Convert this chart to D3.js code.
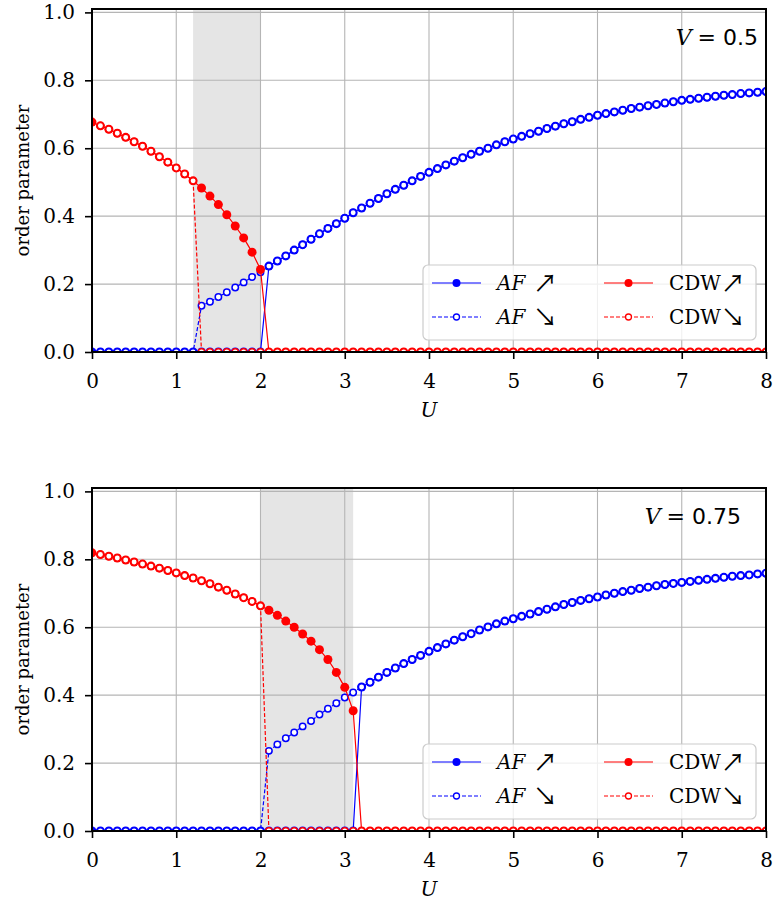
<!DOCTYPE html>
<html>
<head>
<meta charset="utf-8">
<script src="https://cdn.jsdelivr.net/npm/d3@7"></script>
<style>
  body { margin: 0; background: #fff; }
  svg text { font-family: "DejaVu Serif", serif; fill: #000; }
</style>
</head>
<body>
<div id="chart"></div>
<script>
// U grid (forward sweep starts at 0, backward sweep stops at 0.1 -> null)
const U = [0,0.1,0.2,0.3,0.4,0.5,0.6,0.7,0.8,0.9,
           1,1.1,1.2,1.3,1.4,1.5,1.6,1.7,1.8,1.9,
           2,2.1,2.2,2.3,2.4,2.5,2.6,2.7,2.8,2.9,
           3,3.1,3.2,3.3,3.4,3.5,3.6,3.7,3.8,3.9,
           4,4.1,4.2,4.3,4.4,4.5,4.6,4.7,4.8,4.9,
           5,5.1,5.2,5.3,5.4,5.5,5.6,5.7,5.8,5.9,
           6,6.1,6.2,6.3,6.4,6.5,6.6,6.7,6.8,6.9,
           7,7.1,7.2,7.3,7.4,7.5,7.6,7.7,7.8,7.9,
           8];

// V = 0.5
const afUp05 = [0,0,0,0,0,0,0,0,0,0,
                0,0,0,0,0,0,0,0,0,0,
                0,0.253,0.268,0.283,0.300,0.316,0.332,0.348,0.364,0.378,
                0.394,0.410,0.424,0.438,0.452,0.466,0.479,0.491,0.504,0.517,
                0.529,0.540,0.551,0.562,0.572,0.582,0.591,0.600,0.610,0.619,
                0.627,0.635,0.643,0.650,0.658,0.665,0.672,0.678,0.685,0.691,
                0.697,0.702,0.707,0.712,0.717,0.721,0.725,0.729,0.733,0.737,
                0.741,0.744,0.747,0.750,0.753,0.756,0.758,0.761,0.763,0.765,
                0.767];
const afDown05 = [null,0,0,0,0,0,0,0,0,0,
                  0,0,0,0.136,0.148,0.162,0.176,0.190,0.205,0.221,
                  0.235,0.253,0.268,0.283,0.300,0.316,0.332,0.348,0.364,0.378,
                  0.394,0.410,0.424,0.438,0.452,0.466,0.479,0.491,0.504,0.517,
                  0.529,0.540,0.551,0.562,0.572,0.582,0.591,0.600,0.610,0.619,
                  0.627,0.635,0.643,0.650,0.658,0.665,0.672,0.678,0.685,0.691,
                  0.697,0.702,0.707,0.712,0.717,0.721,0.725,0.729,0.733,0.737,
                  0.741,0.744,0.747,0.750,0.753,0.756,0.758,0.761,0.763,0.765,
                  0.767];
const cdwUp05 = [0.677,0.666,0.656,0.644,0.632,0.619,0.606,0.591,0.575,0.559,
                 0.542,0.524,0.504,0.483,0.459,0.434,0.404,0.371,0.336,0.294,
                 0.243,0,0,0,0,0,0,0,0,0,
                 0,0,0,0,0,0,0,0,0,0,
                 0,0,0,0,0,0,0,0,0,0,
                 0,0,0,0,0,0,0,0,0,0,
                 0,0,0,0,0,0,0,0,0,0,
                 0,0,0,0,0,0,0,0,0,0,
                 0];
const cdwDown05 = [null,0.666,0.656,0.644,0.632,0.619,0.606,0.591,0.575,0.559,
                   0.542,0.524,0.504,0,0,0,0,0,0,0,
                   0,0,0,0,0,0,0,0,0,0,
                   0,0,0,0,0,0,0,0,0,0,
                   0,0,0,0,0,0,0,0,0,0,
                   0,0,0,0,0,0,0,0,0,0,
                   0,0,0,0,0,0,0,0,0,0,
                   0,0,0,0,0,0,0,0,0,0,
                   0];

// V = 0.75
const afUp075 = [0,0,0,0,0,0,0,0,0,0,
                 0,0,0,0,0,0,0,0,0,0,
                 0,0,0,0,0,0,0,0,0,0,
                 0,0,0.424,0.438,0.453,0.467,0.480,0.493,0.505,0.517,
                 0.529,0.540,0.551,0.562,0.572,0.581,0.592,0.601,0.610,0.618,
                 0.625,0.632,0.639,0.646,0.653,0.660,0.667,0.673,0.679,0.684,
                 0.689,0.695,0.700,0.705,0.709,0.714,0.718,0.722,0.726,0.729,
                 0.732,0.735,0.738,0.741,0.744,0.747,0.750,0.752,0.754,0.757,
                 0.759];
const afDown075 = [null,0,0,0,0,0,0,0,0,0,
                   0,0,0,0,0,0,0,0,0,0,
                   0,0.236,0.255,0.273,0.290,0.308,0.324,0.343,0.360,0.376,
                   0.393,0.408,0.424,0.438,0.453,0.467,0.480,0.493,0.505,0.517,
                   0.529,0.540,0.551,0.562,0.572,0.581,0.592,0.601,0.610,0.618,
                   0.625,0.632,0.639,0.646,0.653,0.660,0.667,0.673,0.679,0.684,
                   0.689,0.695,0.700,0.705,0.709,0.714,0.718,0.722,0.726,0.729,
                   0.732,0.735,0.738,0.741,0.744,0.747,0.750,0.752,0.754,0.757,
                   0.759];
const cdwUp075 = [0.819,0.814,0.809,0.804,0.798,0.792,0.786,0.780,0.774,0.767,
                  0.760,0.752,0.745,0.737,0.728,0.718,0.709,0.698,0.687,0.676,
                  0.663,0.650,0.635,0.618,0.600,0.580,0.559,0.534,0.505,0.467,
                  0.423,0.354,0,0,0,0,0,0,0,0,
                  0,0,0,0,0,0,0,0,0,0,
                  0,0,0,0,0,0,0,0,0,0,
                  0,0,0,0,0,0,0,0,0,0,
                  0,0,0,0,0,0,0,0,0,0,
                  0];
const cdwDown075 = [null,0.814,0.809,0.804,0.798,0.792,0.786,0.780,0.774,0.767,
                    0.760,0.752,0.745,0.737,0.728,0.718,0.709,0.698,0.687,0.676,
                    0.663,0,0,0,0,0,0,0,0,0,
                    0,0,0,0,0,0,0,0,0,0,
                    0,0,0,0,0,0,0,0,0,0,
                    0,0,0,0,0,0,0,0,0,0,
                    0,0,0,0,0,0,0,0,0,0,
                    0,0,0,0,0,0,0,0,0,0,
                    0];

// coexistence windows (U ranges)
const shade05 = [1.2, 2.0];
const shade075 = [2.0, 3.1];

const xTicks = [0, 1, 2, 3, 4, 5, 6, 7, 8];
const yTicks = [0, 0.2, 0.4, 0.6, 0.8, 1.0];

// legend labels: [italic part, upright part, arrow]
const seriesNames = [['AF', '', '\u2197'], ['AF', '', '\u2198'], ['', 'CDW', '\u2197'], ['', 'CDW', '\u2198']];

const styles = [
  { color: '#0000ff', filled: true,  dash: null },
  { color: '#0000ff', filled: false, dash: '4,2' },
  { color: '#ff0000', filled: true,  dash: null },
  { color: '#ff0000', filled: false, dash: '4,2' }
];

const panels = [
  { id: 'p05', top: 9, V: '0.5', labelRight: 758, shade: shade05,
    series: [afUp05, afDown05, cdwUp05, cdwDown05] },
  { id: 'p075', top: 488, V: '0.75', labelRight: 741, shade: shade075,
    series: [afUp075, afDown075, cdwUp075, cdwDown075] }
];

const W = 774, H = 904;
const left = 92, right = 766, plotH = 343;

const svg = d3.select('#chart').append('svg')
  .attr('width', W).attr('height', H);

panels.forEach(p => drawPanel(p));

function drawPanel(p) {
  const top = p.top, bottom = top + plotH;
  const x = d3.scaleLinear().domain([0, 8]).range([left, right]);
  const y = d3.scaleLinear().domain([0, 1.01]).range([bottom, top]);

  const g = svg.append('g');

  svg.append('clipPath').attr('id', 'clip-' + p.id)
    .append('rect')
    .attr('x', left).attr('y', top)
    .attr('width', right - left).attr('height', plotH);

  // shaded hysteresis window
  g.append('rect')
    .attr('x', x(p.shade[0])).attr('y', top)
    .attr('width', x(p.shade[1]) - x(p.shade[0]))
    .attr('height', plotH)
    .attr('fill', '#e5e5e5');

  // grid
  g.selectAll('.gx').data(xTicks).enter().append('line')
    .attr('x1', d => x(d)).attr('x2', d => x(d))
    .attr('y1', top).attr('y2', bottom)
    .attr('stroke', '#b5b5b5').attr('stroke-width', 1.1);
  g.selectAll('.gy').data(yTicks).enter().append('line')
    .attr('x1', left).attr('x2', right)
    .attr('y1', d => y(d)).attr('y2', d => y(d))
    .attr('stroke', '#b5b5b5').attr('stroke-width', 1.1);

  const plot = g.append('g').attr('clip-path', `url(#clip-${p.id})`);

  const line = d3.line()
    .defined(d => d[1] !== null)
    .x(d => x(d[0]))
    .y(d => y(d[1]));

  p.series.forEach((vals, i) => {
    const st = styles[i];
    const pts = U.map((u, k) => [u, vals[k]]);
    plot.append('path')
      .datum(pts)
      .attr('d', line)
      .attr('fill', 'none')
      .attr('stroke', st.color)
      .attr('stroke-width', 1.2)
      .attr('stroke-dasharray', st.dash);
    plot.selectAll(null)
      .data(pts.filter(d => d[1] !== null))
      .enter().append('circle')
      .attr('cx', d => x(d[0]))
      .attr('cy', d => y(d[1]))
      .attr('r', st.filled ? 4.5 : 3.2)
      .attr('fill', st.filled ? st.color : '#fff')
      .attr('stroke', st.color)
      .attr('stroke-width', st.filled ? 0 : 1.5);
  });

  // axes
  const xAxis = d3.axisBottom(x).tickValues(xTicks).tickSize(7).tickPadding(15)
    .tickFormat(d3.format('d'));
  const yAxis = d3.axisLeft(y).tickValues(yTicks).tickSize(7).tickPadding(10)
    .tickFormat(d3.format('.1f'));

  const gx = svg.append('g').attr('transform', `translate(0,${bottom})`).call(xAxis);
  const gy = svg.append('g').attr('transform', `translate(${left},0)`).call(yAxis);
  [gx, gy].forEach(a => {
    a.attr('font-family', 'DejaVu Serif').attr('font-size', 20);
    a.select('.domain').remove();
    a.selectAll('line').attr('stroke', '#000').attr('stroke-width', 1.6);
    a.selectAll('text').attr('fill', '#000');
  });

  // frame
  svg.append('rect')
    .attr('x', left).attr('y', top)
    .attr('width', right - left).attr('height', plotH)
    .attr('fill', 'none').attr('stroke', '#000').attr('stroke-width', 2);

  // axis labels
  svg.append('text')
    .attr('x', (left + right) / 2).attr('y', bottom + 65)
    .attr('text-anchor', 'middle')
    .style('font-size', '20px').style('font-style', 'italic')
    .text('U');
  svg.append('text')
    .attr('transform', `translate(29,${(top + bottom) / 2}) rotate(-90)`)
    .attr('text-anchor', 'middle')
    .style('font-size', '18px')
    .text('order parameter');

  // V label
  const vt = svg.append('text')
    .attr('x', p.labelRight).attr('y', top + 36)
    .attr('text-anchor', 'end')
    .style('font-size', '22px');
  vt.append('tspan').style('font-style', 'italic').text('V');
  vt.append('tspan').attr('dx', 6)
    .style('font-family', '"DejaVu Sans", sans-serif').text('= ' + p.V);

  // legend
  const lg = svg.append('g').attr('transform', `translate(423,${bottom - 87})`);
  lg.append('rect')
    .attr('width', 333).attr('height', 75).attr('rx', 5)
    .attr('fill', '#fff').attr('fill-opacity', 0.8)
    .attr('stroke', '#cccccc').attr('stroke-width', 1.2);

  const colX = [9, 181];
  const rowY = [18, 52];
  seriesNames.forEach((nm, i) => {
    const st = styles[i];
    const cx = colX[Math.floor(i / 2)];
    const cy = rowY[i % 2];
    lg.append('line')
      .attr('x1', cx).attr('x2', cx + 49)
      .attr('y1', cy).attr('y2', cy)
      .attr('stroke', st.color).attr('stroke-width', 1.2)
      .attr('stroke-dasharray', st.dash);
    lg.append('circle')
      .attr('cx', cx + 24.5).attr('cy', cy)
      .attr('r', st.filled ? 4 : 3)
      .attr('fill', st.filled ? st.color : '#fff')
      .attr('stroke', st.color)
      .attr('stroke-width', st.filled ? 0 : 1.3);
    const t = lg.append('text')
      .attr('x', cx + 65).attr('y', cy + 7)
      .style('font-size', '20px');
    if (nm[0]) t.append('tspan').style('font-style', 'italic').text(nm[0]);
    if (nm[1]) t.append('tspan').text(nm[1]);
    t.append('tspan')
      .attr('dx', nm[0] ? 8 : 0)
      .attr('dy', 2)
      .style('font-family', '"Noto Sans CJK JP", sans-serif')
      .style('font-size', '24px')
      .text(nm[2]);
  });
}
</script>
</body>
</html>
